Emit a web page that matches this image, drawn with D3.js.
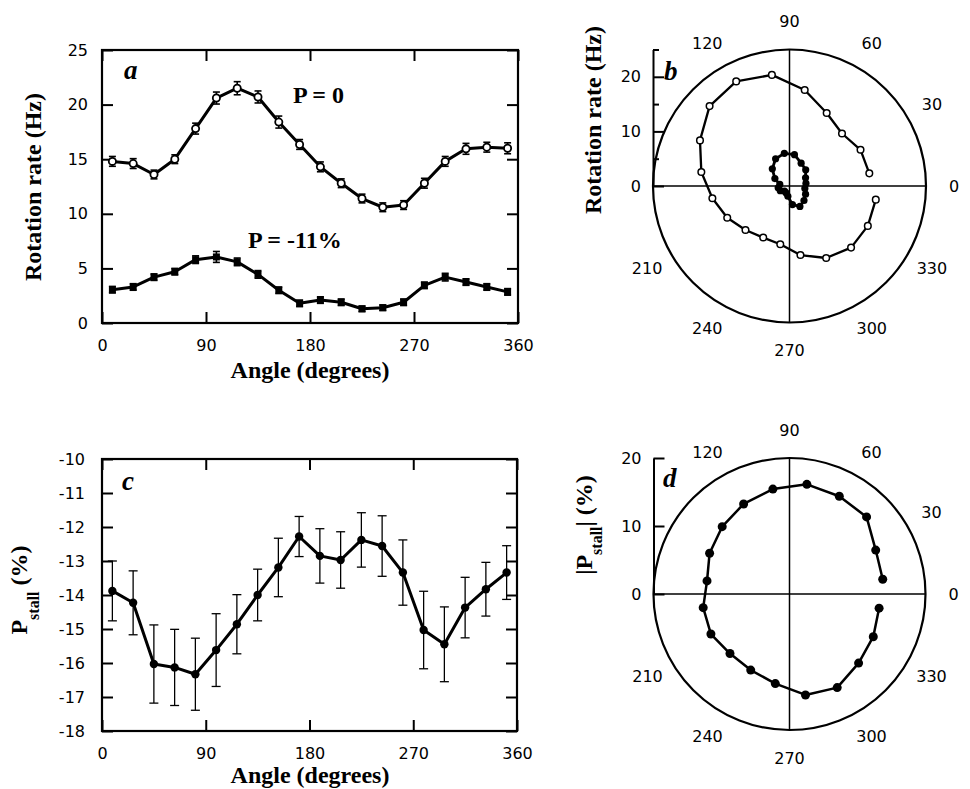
<!DOCTYPE html>
<html>
<head>
<meta charset="utf-8">
<script src="https://cdn.jsdelivr.net/npm/d3@7"></script>
<style>
  body { margin: 0; background: #fff; }
  .tick text { font-family: "DejaVu Sans", sans-serif; font-size: 16px; fill: #000; }
  .lbl { font-family: "Liberation Serif", serif; font-weight: bold; font-size: 24px; fill: #000; }
  .panel { font-family: "Liberation Serif", serif; font-weight: bold; font-style: italic; font-size: 27px; fill: #000; }
  .num { font-family: "DejaVu Sans", sans-serif; font-size: 16px; fill: #000; }
</style>
</head>
<body>
<div id="fig"></div>
<script>
// measurement angles (degrees)
var angles = [9, 27, 45, 63, 81, 99, 117, 135, 153, 171, 189, 207, 225, 243, 261, 279, 297, 315, 333, 351];

// rotation rate (Hz), P = 0
var rateP0 = [14.8, 14.6, 13.6, 15.0, 17.8, 20.6, 21.5, 20.7, 18.4, 16.35, 14.3, 12.8, 11.4, 10.6, 10.8, 12.8, 14.8, 15.95, 16.1, 16.0];
var errP0  = [0.45, 0.45, 0.4, 0.4, 0.5, 0.55, 0.6, 0.55, 0.55, 0.45, 0.45, 0.4, 0.4, 0.4, 0.4, 0.45, 0.45, 0.5, 0.45, 0.5];

// rotation rate (Hz), P = -11%
var rateP11 = [3.05, 3.3, 4.2, 4.7, 5.8, 6.05, 5.6, 4.45, 3.0, 1.8, 2.1, 1.9, 1.3, 1.4, 1.9, 3.45, 4.2, 3.75, 3.3, 2.85];
var errP11  = [0.3, 0.3, 0.3, 0.3, 0.35, 0.5, 0.35, 0.35, 0.3, 0.3, 0.3, 0.3, 0.25, 0.25, 0.3, 0.3, 0.35, 0.3, 0.3, 0.3];

// stall pressure (%)
var pStall   = [-13.88, -14.23, -16.03, -16.13, -16.33, -15.62, -14.86, -14.0, -13.19, -12.28, -12.85, -12.97, -12.38, -12.56, -13.34, -15.03, -15.45, -14.37, -13.83, -13.34];
var errStall = [0.88, 0.94, 1.15, 1.12, 1.06, 1.07, 0.87, 0.76, 0.86, 0.59, 0.8, 0.83, 0.8, 0.89, 0.96, 1.14, 1.1, 0.89, 0.79, 0.79];

// tick labels
var angleTicks = [0, 90, 180, 270, 360];
var rateTicks = [0, 5, 10, 15, 20, 25];
var stallTicks = [-18, -17, -16, -15, -14, -13, -12, -11, -10];
var polarAngleLabels = [0, 30, 60, 90, 120, 210, 240, 270, 300, 330];

var svg = d3.select("#fig").append("svg")
    .attr("width", 970)
    .attr("height", 789);

// plain hyphen for negatives, like the original
var plain = function(d) { return String(d); };

function pts(vals, errs) {
  return angles.map(function(a, i) { return {a: a, v: vals[i], e: errs ? errs[i] : 0}; });
}

// rectangular panel with inward ticks on all four sides
function rectPanel(left, top, w, h, yDomain, yTicks, labelGap) {
  var g = svg.append("g").attr("transform", "translate(" + left + "," + top + ")");
  var x = d3.scaleLinear().domain([0, 360]).range([0, w]);
  var y = d3.scaleLinear().domain(yDomain).range([h, 0]);

  g.append("g").attr("transform", "translate(0," + h + ")")
    .call(d3.axisBottom(x).tickValues(angleTicks).tickSizeInner(-11).tickSizeOuter(0).tickPadding(17).tickFormat(plain));
  g.append("g")
    .call(d3.axisTop(x).tickValues(angleTicks).tickSizeInner(-11).tickSizeOuter(0).tickFormat(""));
  g.append("g")
    .call(d3.axisLeft(y).tickValues(yTicks).tickSizeInner(-11).tickSizeOuter(0).tickPadding(labelGap).tickFormat(plain));
  g.append("g").attr("transform", "translate(" + w + ",0)")
    .call(d3.axisRight(y).tickValues(yTicks).tickSizeInner(-11).tickSizeOuter(0).tickFormat(""));
  g.selectAll(".domain").remove();
  g.selectAll(".tick line").attr("stroke", "#000").attr("stroke-width", 2);

  g.append("rect").attr("width", w).attr("height", h)
    .attr("fill", "none").attr("stroke", "#000").attr("stroke-width", 2.2);
  return {g: g, x: x, y: y};
}

function errorBars(p, data, cap, sw) {
  var eb = p.g.append("g").attr("stroke", "#000").attr("stroke-width", sw);
  data.forEach(function(d) {
    var xx = p.x(d.a), y1 = p.y(d.v - d.e), y2 = p.y(d.v + d.e);
    eb.append("line").attr("x1", xx).attr("x2", xx).attr("y1", y1).attr("y2", y2);
    eb.append("line").attr("x1", xx - cap / 2).attr("x2", xx + cap / 2).attr("y1", y1).attr("y2", y1);
    eb.append("line").attr("x1", xx - cap / 2).attr("x2", xx + cap / 2).attr("y1", y2).attr("y2", y2);
  });
}

function series(p, data, sw) {
  var line = d3.line().x(function(d) { return p.x(d.a); }).y(function(d) { return p.y(d.v); });
  p.g.append("path").datum(data).attr("d", line)
    .attr("fill", "none").attr("stroke", "#000").attr("stroke-width", sw).attr("stroke-linejoin", "round");
}

// ---------- panel a ----------
var pa = rectPanel(102, 50, 416, 273, [0, 25], rateTicks, 14);
var a0 = pts(rateP0, errP0), a11 = pts(rateP11, errP11);
series(pa, a0, 3);
series(pa, a11, 3);
errorBars(pa, a0, 7, 1.6);
errorBars(pa, a11, 7, 1.6);
pa.g.append("g").selectAll("circle").data(a0).enter().append("circle")
  .attr("cx", function(d) { return pa.x(d.a); }).attr("cy", function(d) { return pa.y(d.v); })
  .attr("r", 3.6).attr("fill", "#fff").attr("stroke", "#000").attr("stroke-width", 1.8);
pa.g.append("g").selectAll("rect").data(a11).enter().append("rect")
  .attr("x", function(d) { return pa.x(d.a) - 3.5; }).attr("y", function(d) { return pa.y(d.v) - 3.5; })
  .attr("width", 7).attr("height", 7).attr("fill", "#000");

svg.append("text").attr("class", "panel").attr("x", 124).attr("y", 79).text("a");
svg.append("text").attr("class", "lbl").attr("x", 293).attr("y", 103).text("P = 0");
svg.append("text").attr("class", "lbl").attr("x", 248).attr("y", 248).text("P = -11%");
svg.append("text").attr("class", "lbl").attr("text-anchor", "middle")
  .attr("x", 310).attr("y", 378).text("Angle (degrees)");
svg.append("text").attr("class", "lbl").attr("text-anchor", "middle")
  .attr("transform", "translate(41,187) rotate(-90)").text("Rotation rate (Hz)");

// ---------- panel c ----------
var pc = rectPanel(102, 459, 415, 272, [-18, -10], stallTicks, 17);
var cData = pts(pStall, errStall);
errorBars(pc, cData, 9, 1.3);
series(pc, cData, 3);
pc.g.append("g").selectAll("circle").data(cData).enter().append("circle")
  .attr("cx", function(d) { return pc.x(d.a); }).attr("cy", function(d) { return pc.y(d.v); })
  .attr("r", 4.2).attr("fill", "#000");

svg.append("text").attr("class", "panel").attr("x", 122).attr("y", 490).text("c");
svg.append("text").attr("class", "lbl").attr("text-anchor", "middle")
  .attr("x", 310).attr("y", 783).text("Angle (degrees)");
var cl = svg.append("text").attr("class", "lbl").attr("text-anchor", "middle")
  .attr("transform", "translate(27,590) rotate(-90)");
cl.append("tspan").text("P");
cl.append("tspan").attr("dy", 12).style("font-size", "16px").text("stall");
cl.append("tspan").attr("dy", -12).text(" (%)");

// ---------- polar panels ----------
function polarPanel(cx, cy, R, max, majorTicks, minorTicks) {
  var g = svg.append("g").attr("transform", "translate(" + cx + "," + cy + ")");
  var r = d3.scaleLinear().domain([0, max]).range([0, R]);
  var theta = d3.scaleLinear().domain([0, 360]).range([0, 2 * Math.PI]);

  g.append("circle").attr("r", r(max)).attr("fill", "none").attr("stroke", "#000").attr("stroke-width", 2.2);
  g.append("line").attr("x1", -R).attr("x2", R).attr("stroke", "#000").attr("stroke-width", 1.5);
  g.append("line").attr("y1", -R).attr("y2", R).attr("stroke", "#000").attr("stroke-width", 1.5);

  // radial axis along the left edge
  var ry = d3.scaleLinear().domain([0, max]).range([0, -R]);
  var ax = g.append("g").attr("transform", "translate(" + (-R) + ",0)");
  ax.call(d3.axisLeft(ry).tickValues(majorTicks).tickSizeInner(-11).tickSizeOuter(0).tickPadding(12).tickFormat(plain));
  ax.append("g").call(d3.axisLeft(ry).tickValues(minorTicks).tickSizeInner(-6).tickSizeOuter(0).tickFormat(""))
    .select(".domain").remove();
  ax.selectAll(".domain").attr("stroke", "#000").attr("stroke-width", 2);
  ax.selectAll(".tick line").attr("stroke", "#000").attr("stroke-width", 2);

  // angle labels
  g.append("g").selectAll("text").data(polarAngleLabels).enter().append("text")
    .attr("class", "num").attr("text-anchor", "middle").attr("dy", "0.36em")
    .attr("x", function(d) { return (R + 28) * Math.cos(theta(d)); })
    .attr("y", function(d) { return -(R + 28) * Math.sin(theta(d)); })
    .text(function(d) { return d; });

  var radial = d3.lineRadial()
    .angle(function(d) { return Math.PI / 2 - theta(d.a); })
    .radius(function(d) { return r(d.v); });

  return {
    g: g,
    line: function(data, sw) {
      g.append("path").datum(data).attr("d", radial)
        .attr("fill", "none").attr("stroke", "#000").attr("stroke-width", sw).attr("stroke-linejoin", "round");
    },
    dots: function(data, rad, fill, sw) {
      g.append("g").selectAll("circle").data(data).enter().append("circle")
        .attr("cx", function(d) { return r(d.v) * Math.cos(theta(d.a)); })
        .attr("cy", function(d) { return -r(d.v) * Math.sin(theta(d.a)); })
        .attr("r", rad).attr("fill", fill).attr("stroke", "#000").attr("stroke-width", sw);
    }
  };
}

// ---------- panel b ----------
var pb = polarPanel(789.5, 186, 136.5, 25, [0, 10, 20], [5, 15, 25]);
pb.line(a0, 2.3);
pb.line(a11, 2.8);
pb.dots(a0, 3.3, "#fff", 1.5);
pb.dots(a11, 3.6, "#000", 0);
svg.append("text").attr("class", "panel").attr("x", 664).attr("y", 80).text("b");
svg.append("text").attr("class", "lbl").attr("text-anchor", "middle")
  .attr("transform", "translate(601,120) rotate(-90)").text("Rotation rate (Hz)");

// ---------- panel d ----------
var pd = polarPanel(789.5, 594, 136, 20, [0, 10, 20], []);
var dData = angles.map(function(a, i) { return {a: a, v: Math.abs(pStall[i])}; });
pd.line(dData, 2.5);
pd.dots(dData, 4.5, "#000", 0);
svg.append("text").attr("class", "panel").attr("x", 663).attr("y", 487).text("d");
var dl = svg.append("text").attr("class", "lbl").attr("text-anchor", "middle")
  .attr("transform", "translate(592,525) rotate(-90)");
dl.append("tspan").text("|P");
dl.append("tspan").attr("dy", 10).style("font-size", "16px").text("stall");
dl.append("tspan").attr("dy", -10).text("| (%)");
</script>
</body>
</html>
